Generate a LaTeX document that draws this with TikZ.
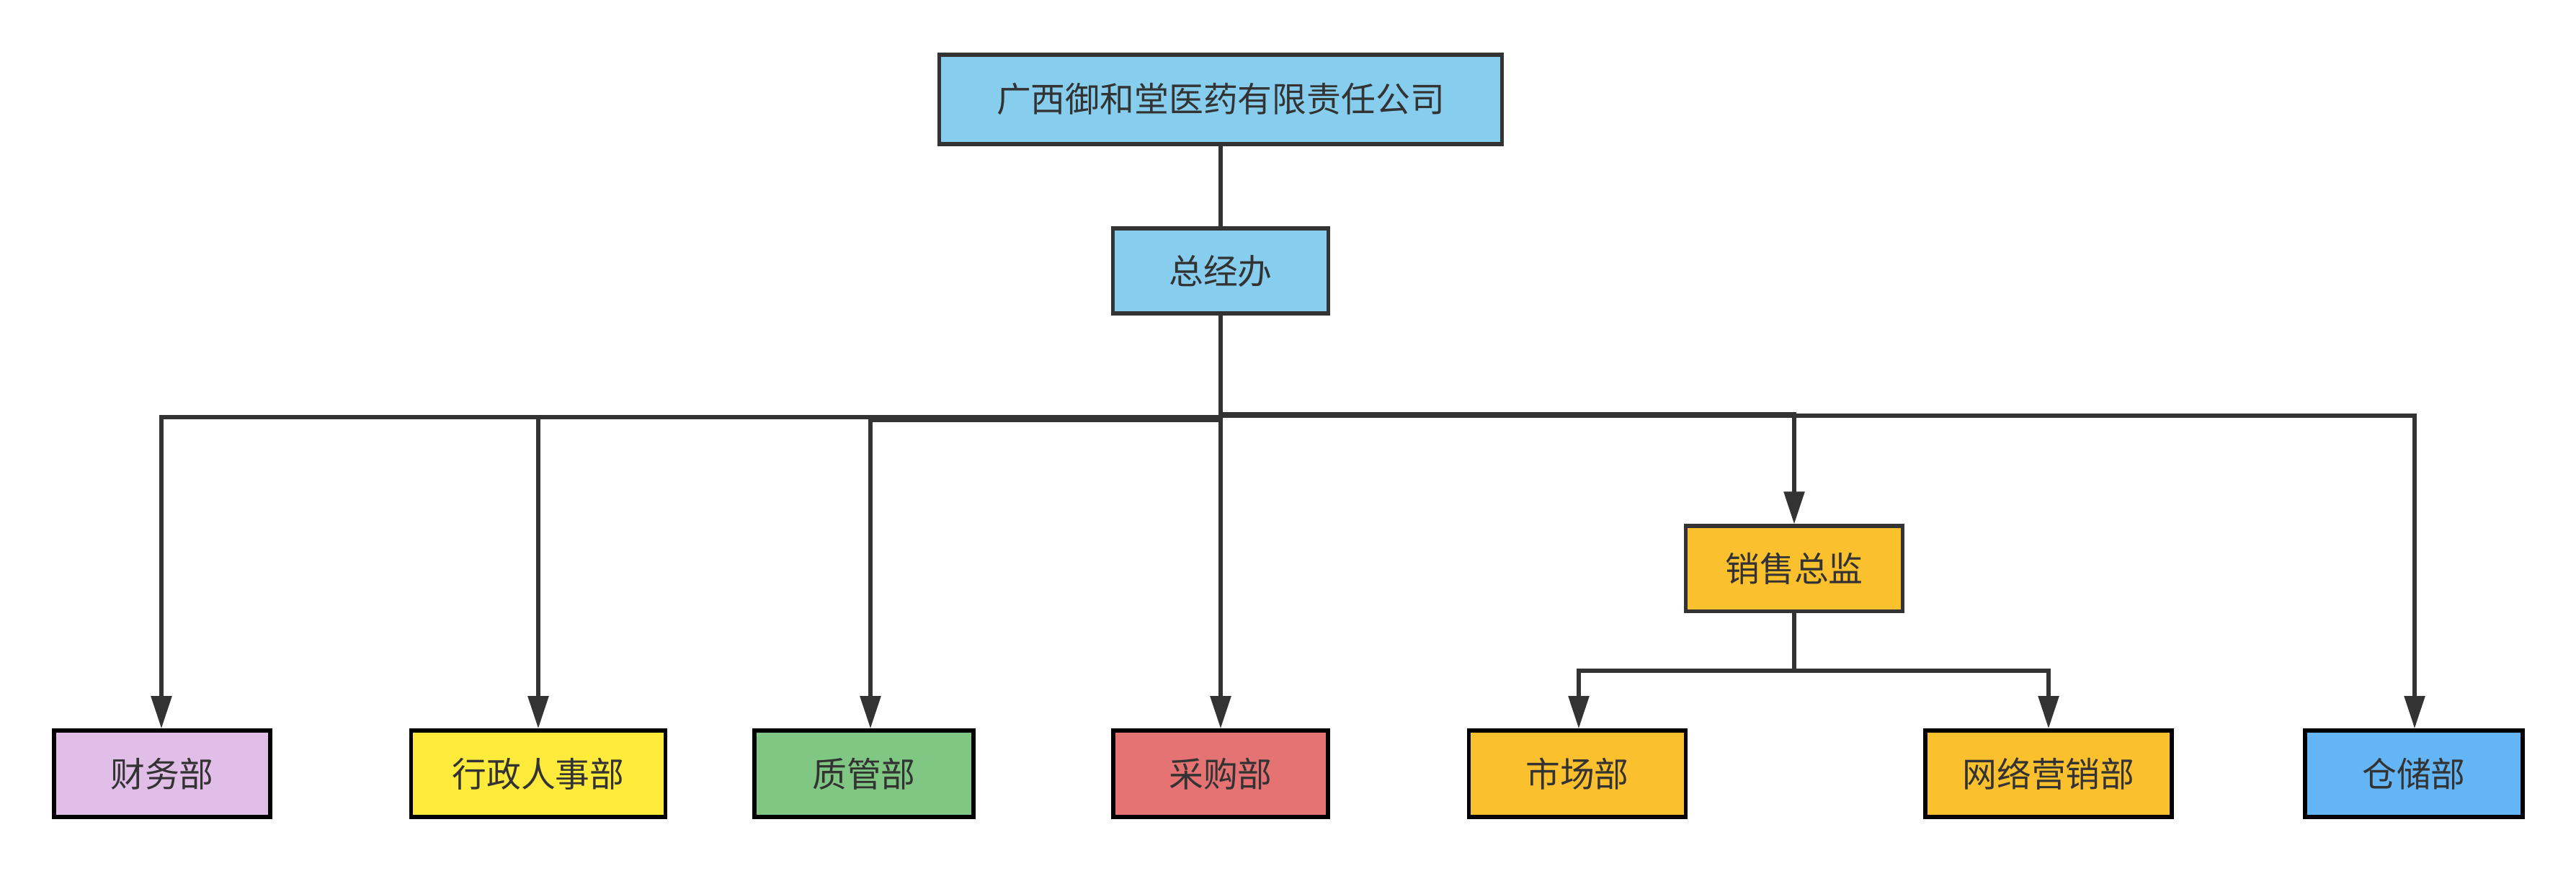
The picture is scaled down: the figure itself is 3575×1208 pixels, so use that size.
\documentclass[tikz,border=0pt]{standalone}
\usepackage{fontspec}
\newfontfamily\cjk{Noto Sans CJK SC}
\usetikzlibrary{arrows.meta}
\definecolor{txt}{HTML}{333333}
\definecolor{ln}{HTML}{333333}
\definecolor{skyc}{HTML}{87CEEE}
\definecolor{purc}{HTML}{E1BEE7}
\definecolor{yelc}{HTML}{FFEB3B}
\definecolor{grnc}{HTML}{81C784}
\definecolor{redc}{HTML}{E57373}
\definecolor{ambc}{HTML}{FBC02D}
\definecolor{bluc}{HTML}{64B5F6}
\tikzset{
  box/.style={draw=ln, line width=1.45pt, text=txt, inner sep=0pt, minimum height=1.2cm,
    font=\cjk\fontsize{13.6pt}{16pt}\selectfont},
  dept/.style={box, draw=black, line width=1.6pt},
  conn/.style={draw=ln, line width=1.55pt},
  arr/.style={conn, -{Triangle[length=0.45cm, width=0.28cm]}},
}
\begin{document}
\begin{tikzpicture}[x=0.01cm, y=-0.01cm]
\useasboundingbox[fill=white] (0,0) rectangle (3575,1208);
% top level
\node[box, fill=skyc, minimum width=7.8cm, minimum height=1.24cm] (top) at (1694,138) {广西御和堂医药有限责任公司};
\node[box, fill=skyc, minimum width=2.98cm, minimum height=1.18cm] (zjb) at (1694,376) {总经办};
\node[box, fill=ambc, minimum width=3.0cm, minimum height=1.18cm] (xszj) at (2490,789) {销售总监};
% departments
\node[dept, fill=purc, minimum width=3.0cm] (cw) at (225,1074) {财务部};
\node[dept, fill=yelc, minimum width=3.53cm] (xz) at (747,1074) {行政人事部};
\node[dept, fill=grnc, minimum width=3.04cm] (zg) at (1199,1074) {质管部};
\node[dept, fill=redc, minimum width=2.98cm] (cg) at (1694,1074) {采购部};
\node[dept, fill=ambc, minimum width=3.01cm] (sc) at (2189,1074) {市场部};
\node[dept, fill=ambc, minimum width=3.42cm] (wl) at (2843,1074) {网络营销部};
\node[dept, fill=bluc, minimum width=3.02cm] (cc) at (3350,1074) {仓储部};
% connectors
\draw[conn] (top.south) -- (zjb.north);
\draw[arr] (zjb.south) |- (224,579) -- (cw.north -| 224,0);
\draw[arr] (zjb.south) |- (747,579) -- (xz.north -| 747,0);
\draw[arr] (zjb.south) |- (1208,583) -- (zg.north -| 1208,0);
\draw[arr] (zjb.south) -- (cg.north);
\draw[arr] (zjb.south) |- (2490,575) -- (xszj.north);
\draw[arr] (zjb.south) |- (3351,577) -- (cc.north -| 3351,0);
\draw[arr] (xszj.south) |- (2191,931) -- (sc.north -| 2191,0);
\draw[arr] (xszj.south) |- (2843,931) -- (wl.north);
\end{tikzpicture}
\end{document}
